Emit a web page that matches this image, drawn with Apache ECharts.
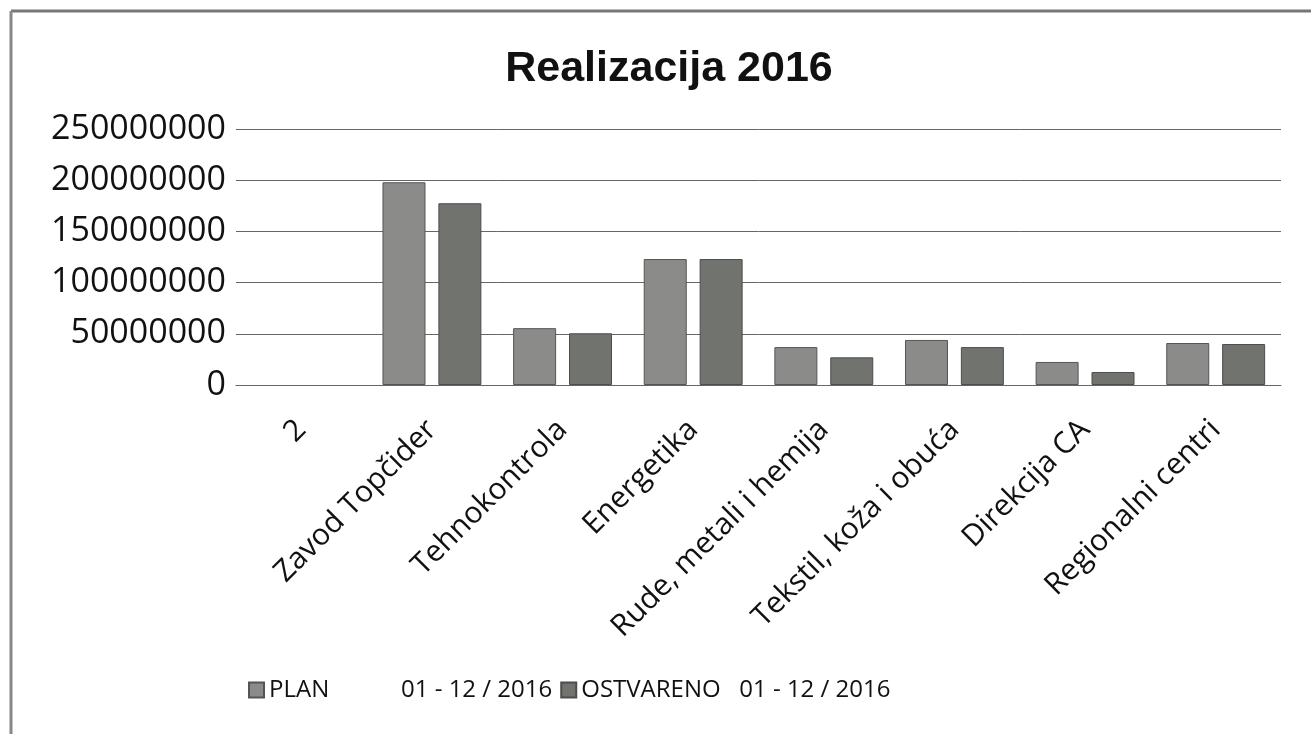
<!DOCTYPE html>
<html>
<head>
<meta charset="utf-8">
<script src="https://cdn.jsdelivr.net/npm/echarts@6/dist/echarts.min.js"></script>
<style>
html,body{margin:0;padding:0;background:#fff;}
#chart{width:1311px;height:734px;}
</style>
</head>
<body>
<div id="chart"></div>
<script>
const titleText = 'Realizacija 2016';
const categories = ['2', 'Zavod Topčider', 'Tehnokontrola', 'Energetika', 'Rude, metali i hemija', 'Tekstil, koža i obuća', 'Direkcija CA', 'Regionalni centri'];
const planName = 'PLAN';
const ostvName = 'OSTVARENO';
const periodLabel = '01 - 12 / 2016';
const planValues = [null, 198000000, 55500000, 123000000, 37000000, 44000000, 22500000, 41000000];
const ostvValues = [null, 177500000, 50500000, 123000000, 27000000, 37000000, 12700000, 40000000];
const yTicks = [0, 50000000, 100000000, 150000000, 200000000, 250000000];

const chart = echarts.init(document.getElementById('chart'));
const font = 'Open Sans';
chart.setOption({
  backgroundColor: '#fff',
  animation: false,
  graphic: [
    {type: 'line', shape: {x1: 11, y1: 11, x2: 1311, y2: 11}, style: {stroke: '#777', lineWidth: 3}},
    {type: 'line', shape: {x1: 11, y1: 11, x2: 11, y2: 734}, style: {stroke: '#888', lineWidth: 3}}
  ],
  title: {
    text: titleText,
    left: 664,
    textAlign: 'center',
    top: 43,
    textStyle: {fontFamily: 'Liberation Sans', fontWeight: 'bold', fontSize: 43, color: '#111'}
  },
  legend: {
    left: 248,
    top: 678,
    padding: 0,
    itemWidth: 15,
    itemHeight: 15,
    itemGap: 8,
    icon: 'rect',
    data: [planName, ostvName],
    formatter: function (n) {
      return n === planName ? '{a|' + n + '}{b|' + periodLabel + '}' : '{c|' + n + '}{b|' + periodLabel + '}';
    },
    textStyle: {
      fontFamily: font, fontSize: 24, color: '#111',
      rich: {
        a: {fontFamily: font, fontSize: 24, color: '#111', width: 132},
        c: {fontFamily: font, fontSize: 24, color: '#111', width: 158},
        b: {fontFamily: font, fontSize: 24, color: '#111'}
      }
    }
  },
  grid: {left: 236, right: 30, top: 129, bottom: 349, containLabel: false},
  xAxis: {
    type: 'category',
    data: categories,
    axisLine: {show: true, lineStyle: {color: '#666', width: 1}},
    axisTick: {show: false},
    axisLabel: {rotate: 45, interval: 0, margin: 40, fontFamily: font, fontSize: 30, color: '#111'}
  },
  yAxis: {
    type: 'value',
    min: yTicks[0],
    max: yTicks[yTicks.length - 1],
    interval: yTicks[1] - yTicks[0],
    axisLine: {show: false},
    axisTick: {show: false},
    splitLine: {lineStyle: {color: '#666', width: 1}},
    axisLabel: {
      margin: 10, fontFamily: font, fontSize: 34, color: '#111',
      formatter: function (v) { return String(v); }
    }
  },
  series: [
    {
      name: planName, type: 'bar', data: planValues, barWidth: 43, barGap: '30%',
      itemStyle: {color: '#8b8c89', borderColor: '#555', borderWidth: 1}
    },
    {
      name: ostvName, type: 'bar', data: ostvValues, barWidth: 43,
      itemStyle: {color: '#70736e', borderColor: '#4d4d4d', borderWidth: 1}
    }
  ]
});
</script>
</body>
</html>
